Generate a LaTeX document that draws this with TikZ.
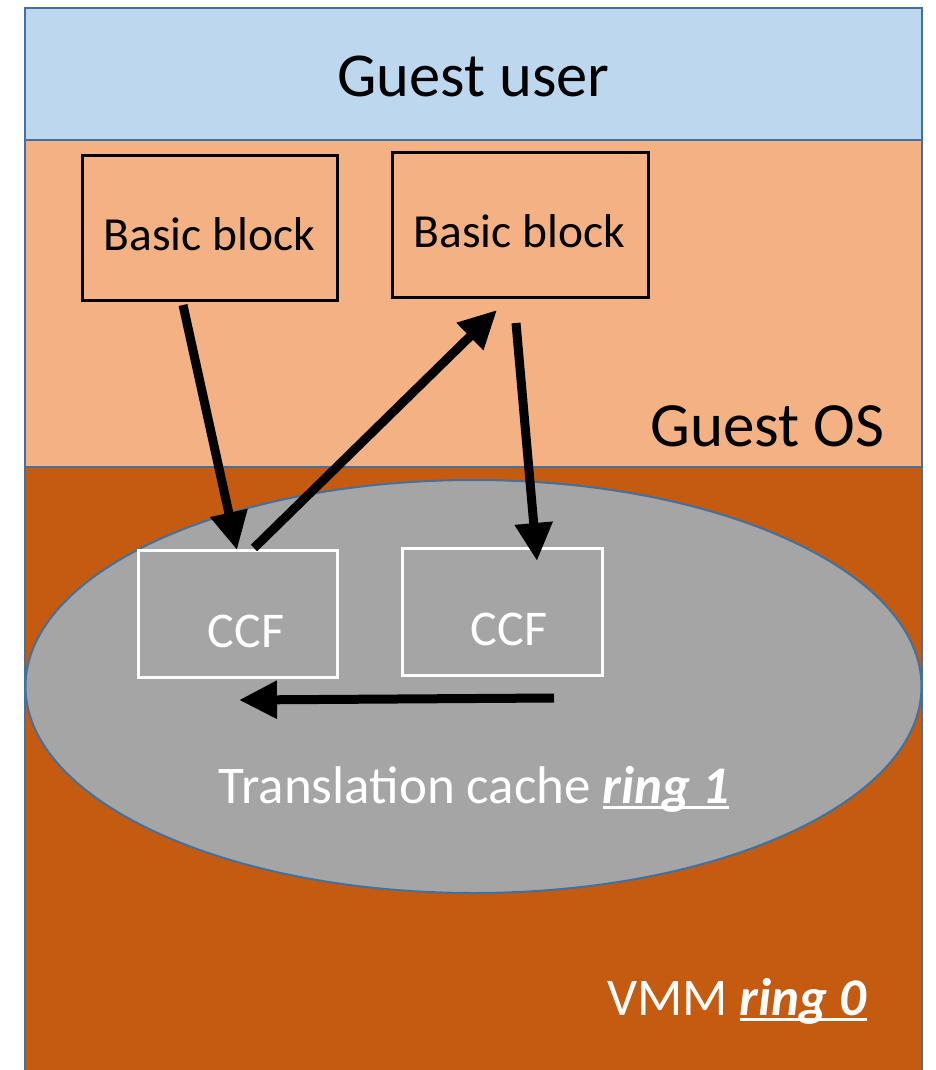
\documentclass[tikz,border=0pt]{standalone}
\usepackage{fontspec}
\setmainfont{Carlito}
\usetikzlibrary{arrows.meta}
\definecolor{userblue}{HTML}{BDD7EE}
\definecolor{osorange}{HTML}{F4B183}
\definecolor{vmmrust}{HTML}{C55A11}
\definecolor{cachegray}{HTML}{A5A5A5}
\definecolor{edgeblue}{HTML}{41719C}
% underlined label with a heavy rule
\newcommand{\ringul}[1]{\setbox0\hbox{#1}\rlap{\rule[-6pt]{\wd0}{3.2pt}}\box0}
\tikzset{
  band/.style={draw=edgeblue, line width=2.5pt},
  bbox/.style={draw=black, line width=3pt, fill=osorange},
  ccfbox/.style={draw=white, line width=3pt},
  flow/.style={draw=black, line width=9pt, -{Triangle[length=38pt,width=36pt]}},
  lbl/.style={inner sep=0pt, anchor=base},
}
\begin{document}
\begin{tikzpicture}[x=1pt,y=-1pt]
\useasboundingbox (0,0) rectangle (935,1070);
\begin{scope}
\clip (0,0) rectangle (935,1070);
% layers
\fill[userblue] (25,8) rectangle (922,140);
\fill[osorange] (25,140) rectangle (922,467);
\fill[vmmrust] (25,467) rectangle (922,1090);
\draw[band] (25,1090) -- (25,8) -- (922,8) -- (922,1090);
\draw[band] (25,140) -- (922,140);
\draw[band] (25,467) -- (922,467);
% translation cache
\draw[fill=cachegray, draw=edgeblue, line width=2pt] (473.5,686.5) ellipse [x radius=448, y radius=206.5];
\end{scope}

\node[lbl, font=\fontsize{62.5pt}{70pt}\selectfont] (guser) at (473.5,97) {Guest user};
\node[lbl, font=\fontsize{63pt}{70pt}\selectfont] (gos) at (767.5,446) {Guest OS};

% basic blocks
\node[bbox, minimum width=255pt, minimum height=145pt, inner sep=0pt] (bb1) at (209.5,227.5) {};
\node[bbox, minimum width=256pt, minimum height=145pt, inner sep=0pt] (bb2) at (520,224.5) {};
\node[lbl, font=\fontsize{47.5pt}{52pt}\selectfont] (bb1t) at (209.5,250) {Basic block};
\node[lbl, font=\fontsize{47.5pt}{52pt}\selectfont] (bb2t) at (519.5,247) {Basic block};

% code-cache fragments
\node[ccfbox, minimum width=199pt, minimum height=127pt, inner sep=0pt] (ccf1) at (237.5,613.5) {};
\node[ccfbox, minimum width=200pt, minimum height=127pt, inner sep=0pt] (ccf2) at (502,611.5) {};
\node[lbl, text=white, font=\fontsize{50pt}{56pt}\selectfont] (ccf1t) at (246,647) {CCF};
\node[lbl, text=white, font=\fontsize{50pt}{56pt}\selectfont] (ccf2t) at (509,645) {CCF};

\node[lbl, text=white, font=\fontsize{53pt}{58pt}\selectfont] (tc) at (474,803)
  {Translation cache \ringul{\textbf{\textit{ring 1}}}};
\node[lbl, text=white, font=\fontsize{53pt}{58pt}\selectfont] (vmm) at (737,1015)
  {VMM \ringul{\textbf{\textit{ring 0}}}};

% control transfers
\coordinate (a1s) at (183,305);
\coordinate (a1e) at (237,550);
\coordinate (a2s) at (254,548);
\coordinate (a2e) at (497,310);
\coordinate (a3s) at (516,323);
\coordinate (a3e) at (537,561);
\coordinate (a4s) at (554,698);
\coordinate (a4e) at (239,700);
\draw[flow] (a1s) -- (a1e);
\draw[flow] (a2s) -- (a2e);
\draw[flow] (a3s) -- (a3e);
\draw[flow] (a4s) -- (a4e);
\end{tikzpicture}
\end{document}
